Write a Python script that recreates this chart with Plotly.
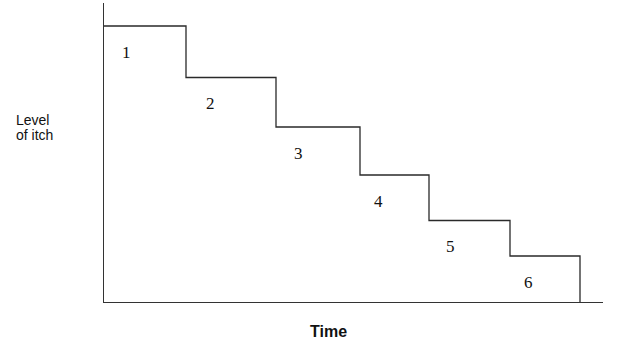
import plotly.graph_objects as go

# Data (time units and itch-level units)
step_start = [0.0, 8.2, 17.2, 25.6, 32.5, 40.6]
step_end = [8.2, 17.2, 25.6, 32.5, 40.6, 47.6]
step_level = [27.6, 22.45, 17.5, 12.7, 8.15, 4.6]
step_labels = ["1", "2", "3", "4", "5", "6"]
x_max = 49.9
y_max = 29.9

xs = step_start + [step_end[-1]]
ys = step_level + [0.0]

fig = go.Figure()
fig.add_trace(go.Scatter(
    x=xs, y=ys, mode="lines", line=dict(shape="hv", color="#2a2a2a", width=1.3),
    hoverinfo="skip", showlegend=False,
))

annotations = []
for s, e, lv, lab in zip(step_start, step_end, step_level, step_labels):
    annotations.append(dict(
        x=s + 0.27 * (e - s), y=lv - 2.6, xref="x", yref="y", text=lab,
        showarrow=False, font=dict(family="Liberation Serif", size=17, color="#111"),
        xanchor="center", yanchor="middle",
    ))

annotations += [
    dict(x=-0.181, y=0.608, xref="paper", yref="paper", text="Level", showarrow=False,
         xanchor="left", yanchor="middle", font=dict(family="Liberation Sans", size=14, color="#111")),
    dict(x=-0.181, y=0.559, xref="paper", yref="paper", text="of itch", showarrow=False,
         xanchor="left", yanchor="middle", font=dict(family="Liberation Sans", size=14, color="#111")),
    dict(x=22.4, y=-0.1, xref="x", yref="paper", text="<b>Time</b>", showarrow=False,
         xanchor="center", yanchor="middle", font=dict(family="Liberation Sans", size=16, color="#111")),
]

fig.update_layout(
    width=620, height=342,
    margin=dict(l=104, r=17, t=3, b=40),
    paper_bgcolor="white", plot_bgcolor="white",
    annotations=annotations,
    xaxis=dict(range=[0, x_max], showline=True, linecolor="#333", linewidth=1.2,
               showgrid=False, zeroline=False, showticklabels=False, ticks=""),
    yaxis=dict(range=[0, y_max], showline=True, linecolor="#333", linewidth=1.2,
               showgrid=False, zeroline=False, showticklabels=False, ticks=""),
)

fig.write_html("out.html")
